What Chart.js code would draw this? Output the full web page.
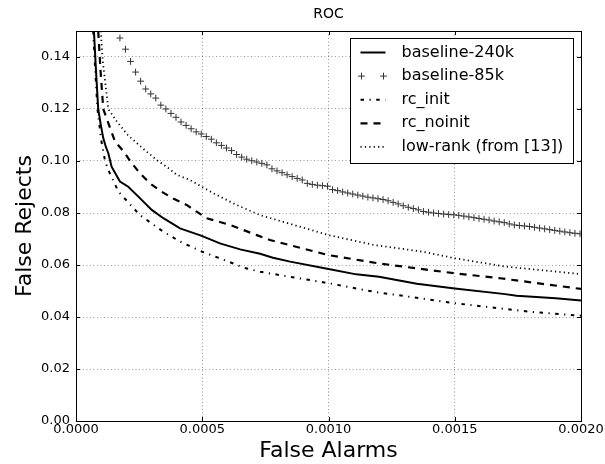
<!DOCTYPE html>
<html><head><meta charset="utf-8">
<script src="https://cdn.jsdelivr.net/npm/chart.js@4.4.1/dist/chart.umd.min.js"></script>
<style>html,body{margin:0;padding:0;background:#fff;}#wrap{width:605px;height:464px;}</style>
</head><body><div id="wrap"><canvas id="c" width="605" height="464"></canvas></div>
<script>
const chartTitle = 'ROC';
const xAxisTitle = 'False Alarms';
const yAxisTitle = 'False Rejects';
const xTicks = [0, 0.0005, 0.0010, 0.0015, 0.0020];
const yTicks = [0, 0.02, 0.04, 0.06, 0.08, 0.10, 0.12, 0.14];
const seriesNames = ['baseline-240k', 'baseline-85k', 'rc_init', 'rc_noinit', 'low-rank (from [13])'];

const b240X = [0.000071, 0.000079, 0.000088, 0.000098, 0.000108, 0.000118, 0.000128, 0.000141, 0.000174, 0.000207, 0.000247, 0.000300, 0.000346, 0.000412, 0.000498, 0.000570, 0.000650, 0.000729, 0.000780, 0.000848, 0.001000, 0.001110, 0.001200, 0.001350, 0.001500, 0.001700, 0.001745, 0.001900, 0.002000];
const b240Y = [0.150, 0.135, 0.120, 0.114, 0.1088, 0.1055, 0.1030, 0.0978, 0.0921, 0.0901, 0.0863, 0.0812, 0.0780, 0.0741, 0.0712, 0.0683, 0.0660, 0.0643, 0.0628, 0.0613, 0.0585, 0.0564, 0.0555, 0.0528, 0.0510, 0.0488, 0.0482, 0.0472, 0.0463];

const b85X = [0.000174, 0.000196, 0.000216, 0.000236, 0.000256, 0.000276, 0.000296, 0.000316, 0.000336, 0.000356, 0.000376, 0.000396, 0.000416, 0.000436, 0.000456, 0.000476, 0.000496, 0.000516, 0.000536, 0.000556, 0.000576, 0.000596, 0.000616, 0.000636, 0.000656, 0.000676, 0.000696, 0.000716, 0.000736, 0.000756, 0.000776, 0.000796, 0.000816, 0.000836, 0.000856, 0.000876, 0.000896, 0.000916, 0.000936, 0.000956, 0.000976, 0.000996, 0.001016, 0.001036, 0.001056, 0.001076, 0.001096, 0.001116, 0.001136, 0.001156, 0.001176, 0.001196, 0.001216, 0.001236, 0.001256, 0.001276, 0.001296, 0.001316, 0.001336, 0.001356, 0.001376, 0.001396, 0.001416, 0.001436, 0.001456, 0.001476, 0.001496, 0.001516, 0.001536, 0.001556, 0.001576, 0.001596, 0.001616, 0.001636, 0.001656, 0.001676, 0.001696, 0.001716, 0.001736, 0.001756, 0.001776, 0.001796, 0.001816, 0.001836, 0.001856, 0.001876, 0.001896, 0.001916, 0.001936, 0.001956, 0.001976, 0.001996];
const b85Y = [0.1473, 0.1430, 0.1383, 0.1342, 0.1307, 0.1277, 0.1258, 0.1242, 0.1215, 0.1200, 0.1183, 0.1168, 0.1150, 0.1137, 0.1124, 0.1112, 0.1104, 0.1094, 0.1084, 0.1070, 0.1060, 0.1050, 0.1040, 0.1025, 0.1015, 0.1007, 0.1001, 0.0996, 0.0991, 0.0985, 0.0970, 0.0962, 0.0955, 0.0947, 0.0940, 0.0933, 0.0927, 0.0914, 0.0910, 0.0907, 0.0905, 0.0903, 0.0890, 0.0886, 0.0881, 0.0877, 0.0873, 0.0869, 0.0865, 0.0861, 0.0858, 0.0855, 0.0852, 0.0847, 0.0841, 0.0835, 0.0828, 0.0822, 0.0817, 0.0812, 0.0806, 0.0803, 0.0800, 0.0798, 0.0796, 0.0794, 0.0793, 0.0791, 0.0788, 0.0785, 0.0782, 0.0779, 0.0776, 0.0773, 0.0769, 0.0766, 0.0763, 0.0758, 0.0754, 0.0752, 0.0750, 0.0748, 0.0745, 0.0742, 0.0739, 0.0736, 0.0733, 0.0730, 0.0727, 0.0724, 0.0722, 0.0720];

const rcInitX = [0.000068, 0.000076, 0.000085, 0.000100, 0.000115, 0.000128, 0.000168, 0.000253, 0.000346, 0.000412, 0.000500, 0.000623, 0.000663, 0.000729, 0.001000, 0.001180, 0.001500, 0.001700, 0.001800, 0.002000];
const rcInitY = [0.150, 0.135, 0.120, 0.108, 0.1000, 0.0965, 0.0882, 0.0792, 0.0728, 0.0690, 0.0651, 0.0606, 0.0590, 0.0574, 0.0530, 0.0497, 0.0453, 0.0431, 0.0420, 0.0405];

const rcNoinitX = [0.000088, 0.000097, 0.000108, 0.000135, 0.000154, 0.000194, 0.000214, 0.000253, 0.000293, 0.000339, 0.000385, 0.000438, 0.000478, 0.000517, 0.000610, 0.000716, 0.000768, 0.001000, 0.001200, 0.001500, 0.001680, 0.002000];
const rcNoinitY = [0.150, 0.135, 0.120, 0.1127, 0.1076, 0.1030, 0.1000, 0.0953, 0.0914, 0.0882, 0.0856, 0.0831, 0.0805, 0.0780, 0.0754, 0.0715, 0.0696, 0.0638, 0.0606, 0.0568, 0.0549, 0.0508];

const lowRankX = [0.000098, 0.000106, 0.000128, 0.000161, 0.000205, 0.000265, 0.000326, 0.000359, 0.000399, 0.000451, 0.000544, 0.000636, 0.000729, 0.001000, 0.001180, 0.001375, 0.001500, 0.001700, 0.002000];
const lowRankY = [0.150, 0.1384, 0.1200, 0.1153, 0.1100, 0.1048, 0.0999, 0.0978, 0.0947, 0.0927, 0.0876, 0.0831, 0.0792, 0.0715, 0.0677, 0.0651, 0.0626, 0.0594, 0.0565];

const pts = (xs, ys) => xs.map((x, i) => ({x: x, y: ys[i]}));
const FONT = "'DejaVu Sans', sans-serif";

const decorPlugin = {
  id: 'decor',
  afterDatasetsDraw(chart) {
    const {ctx, chartArea: a, scales} = chart;
    ctx.save();
    ctx.strokeStyle = '#000';
    ctx.lineWidth = 1;
    ctx.setLineDash([]);
    ctx.strokeRect(Math.round(a.left) + 0.5, Math.round(a.top) + 0.5, Math.round(a.right - a.left), Math.round(a.bottom - a.top));
    ctx.beginPath();
    xTicks.forEach(v => {
      const px = Math.round(scales.x.getPixelForValue(v)) + 0.5;
      ctx.moveTo(px, a.bottom); ctx.lineTo(px, a.bottom - 4);
      ctx.moveTo(px, a.top); ctx.lineTo(px, a.top + 4);
    });
    yTicks.forEach(v => {
      const py = Math.round(scales.y.getPixelForValue(v)) + 0.5;
      ctx.moveTo(a.left, py); ctx.lineTo(a.left + 4, py);
      ctx.moveTo(a.right, py); ctx.lineTo(a.right - 4, py);
    });
    ctx.stroke();
    const bw = 223, bh = 125;
    const bx = Math.round(a.right - 8 - bw) + 0.5, by = Math.round(a.top + 7) + 0.5;
    ctx.fillStyle = '#fff';
    ctx.fillRect(bx, by, bw, bh);
    ctx.strokeStyle = '#000';
    ctx.lineWidth = 1;
    ctx.strokeRect(bx, by, bw, bh);
    ctx.font = '16px ' + FONT;
    ctx.textBaseline = 'middle';
    ctx.textAlign = 'left';
    chart.data.datasets.forEach((ds, i) => {
      const cy = by + 14 + i * 23.6;
      const x0 = bx + 10, x1 = bx + 35;
      if (ds.showLine === false) {
        ctx.strokeStyle = ds.pointBorderColor;
        ctx.lineWidth = ds.pointBorderWidth;
        ctx.setLineDash([]);
        [x0 + 1, x1 - 2].forEach(cx => {
          ctx.beginPath();
          ctx.moveTo(cx - ds.pointRadius, cy); ctx.lineTo(cx + ds.pointRadius, cy);
          ctx.moveTo(cx, cy - ds.pointRadius); ctx.lineTo(cx, cy + ds.pointRadius);
          ctx.stroke();
        });
      } else {
        ctx.strokeStyle = ds.borderColor;
        ctx.lineWidth = ds.borderWidth;
        ctx.setLineDash(ds.borderDash || []);
        ctx.beginPath();
        ctx.moveTo(x0, cy); ctx.lineTo(x1, cy);
        ctx.stroke();
      }
      ctx.setLineDash([]);
      ctx.fillStyle = '#000';
      ctx.fillText(ds.label, bx + 51, cy);
    });
    ctx.restore();
  }
};

new Chart(document.getElementById('c'), {
  type: 'line',
  data: {
    datasets: [
      {label: seriesNames[0], data: pts(b240X, b240Y), borderColor: '#000', borderWidth: 2, pointRadius: 0, fill: false},
      {label: seriesNames[1], data: pts(b85X, b85Y), showLine: false, pointStyle: 'cross', pointRadius: 3.4, pointBorderWidth: 1, pointBorderColor: '#333', borderColor: '#333', pointHoverRadius: 3.4},
      {label: seriesNames[2], data: pts(rcInitX, rcInitY), borderColor: '#000', borderWidth: 2, borderDash: [3.5, 5.5, 1.2, 5.5], pointRadius: 0, fill: false},
      {label: seriesNames[3], data: pts(rcNoinitX, rcNoinitY), borderColor: '#000', borderWidth: 2.2, borderDash: [7, 6], pointRadius: 0, fill: false},
      {label: seriesNames[4], data: pts(lowRankX, lowRankY), borderColor: '#000', borderWidth: 1.8, borderDash: [1.2, 3.2], pointRadius: 0, fill: false}
    ]
  },
  options: {
    responsive: false,
    animation: false,
    devicePixelRatio: 1,
    layout: {padding: {left: 0, right: 24, top: 0, bottom: 0}},
    plugins: {
      legend: {display: false},
      tooltip: {enabled: false},
      title: {display: true, text: chartTitle, fullSize: false, color: '#000', font: {family: FONT, size: 14, weight: 'normal'}, padding: {top: 6, bottom: 8.2}}
    },
    scales: {
      x: {
        type: 'linear', min: 0, max: 0.002,
        afterBuildTicks: s => { s.ticks = xTicks.map(v => ({value: v})); },
        afterFit: s => { s.height = 43; s.paddingLeft = 0; s.paddingRight = 0; },
        ticks: {color: '#000', font: {family: FONT, size: 13}, padding: 1, maxRotation: 0, autoSkip: false, callback: v => Number(v).toFixed(4)},
        grid: {color: 'rgba(0,0,0,0.4)', lineWidth: 1, drawTicks: false},
        border: {display: false, dash: [1, 2.5]},
        title: {display: true, text: xAxisTitle, color: '#000', font: {family: FONT, size: 22}, padding: {top: 0, bottom: 0}}
      },
      y: {
        type: 'linear', min: 0, max: 0.15,
        afterBuildTicks: s => { s.ticks = yTicks.map(v => ({value: v})); },
        afterFit: s => { s.width = 76; s.paddingTop = 0; s.paddingBottom = 0; },
        ticks: {color: '#000', font: {family: FONT, size: 13}, padding: 6, autoSkip: false, callback: v => Number(v).toFixed(2)},
        grid: {color: 'rgba(0,0,0,0.4)', lineWidth: 1, drawTicks: false},
        border: {display: false, dash: [1, 2.5]},
        title: {display: true, text: yAxisTitle, color: '#000', font: {family: FONT, size: 22}, padding: {top: 12, bottom: 0}}
      }
    }
  },
  plugins: [decorPlugin]
});
</script></body></html>
